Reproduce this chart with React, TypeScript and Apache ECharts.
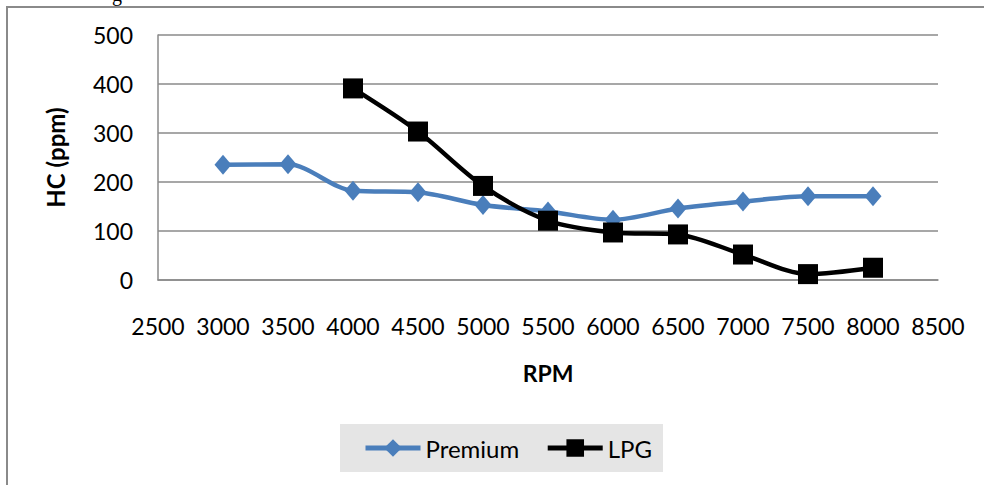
import React, { useEffect, useRef } from "react";
import * as echarts from "echarts";

// Engine speed (RPM) and hydrocarbon emissions (ppm)
const rpmPremium = [3000, 3500, 4000, 4500, 5000, 5500, 6000, 6500, 7000, 7500, 8000];
const hcPremium = [235, 236, 182, 179, 153, 140, 123, 146, 160, 171, 171];
const rpmLpg = [4000, 4500, 5000, 5500, 6000, 6500, 7000, 7500, 8000];
const hcLpg = [391, 303, 192, 121, 97, 93, 52, 12, 25];

const FONT = "Lato, 'Open Sans', sans-serif";
const GRAY = "#8a8a8a";
const BLUE = "#4a7ebb";

export default function App() {
  const ref = useRef<HTMLDivElement>(null);

  useEffect(() => {
    if (!ref.current) return;
    const chart = echarts.init(ref.current, undefined, { renderer: "svg" });
    chart.setOption({
      animation: false,
      backgroundColor: "#ffffff",
      textStyle: { fontFamily: FONT },
      grid: { left: 158, right: 46, top: 35, bottom: 205 },
      xAxis: {
        type: "value",
        min: 2500,
        max: 8500,
        interval: 500,
        name: "RPM",
        nameLocation: "middle",
        nameGap: 81,
        nameTextStyle: { fontFamily: FONT, fontSize: 23, fontWeight: "bold", color: "#000" },
        axisLine: { show: true, lineStyle: { color: GRAY, width: 1.5 } },
        axisTick: { show: false },
        splitLine: { show: false },
        axisLabel: {
          margin: 34,
          fontFamily: FONT,
          fontSize: 23,
          color: "#000",
          formatter: (v: number) => String(v),
        },
      },
      yAxis: {
        type: "value",
        min: 0,
        max: 500,
        interval: 100,
        name: "HC (ppm)",
        nameLocation: "middle",
        nameGap: 91,
        nameTextStyle: { fontFamily: FONT, fontSize: 24, fontWeight: "bold", color: "#000" },
        axisLine: { show: true, lineStyle: { color: GRAY, width: 1.5 } },
        axisTick: { show: false },
        splitLine: { show: true, lineStyle: { color: GRAY, width: 1.5 } },
        axisLabel: { margin: 25, fontFamily: FONT, fontSize: 23, color: "#000" },
      },
      legend: {
        left: 358,
        top: 431,
        itemWidth: 55,
        itemHeight: 22,
        itemGap: 26,
        lineStyle: { width: 5 },
        textStyle: { fontFamily: FONT, fontSize: 24, color: "#000" },
        data: [
          { name: "Premium", lineStyle: { width: 5 } },
          { name: "LPG", lineStyle: { width: 5 } },
        ],
      },
      graphic: [
        {
          type: "rect",
          z: -1,
          shape: { x: 340, y: 424, width: 323, height: 48 },
          style: { fill: "#e5e5e5" },
        },
        {
          type: "rect",
          shape: { x: 7, y: 7, width: 1200, height: 700 },
          style: { fill: "none", stroke: GRAY, lineWidth: 2 },
        },
        {
          type: "text",
          x: 112,
          y: -16,
          style: { text: "g", font: "20px 'Liberation Serif'", fill: "#000" },
        },
      ],
      series: [
        {
          name: "Premium",
          type: "line",
          smooth: 0.3,
          data: rpmPremium.map((r, i) => [r, hcPremium[i]]),
          symbol: "diamond",
          symbolSize: [17, 20],
          lineStyle: { color: BLUE, width: 4.5 },
          itemStyle: { color: BLUE },
        },
        {
          name: "LPG",
          type: "line",
          smooth: 0.3,
          data: rpmLpg.map((r, i) => [r, hcLpg[i]]),
          symbol: "rect",
          symbolSize: 20,
          lineStyle: { color: "#000", width: 4.5 },
          itemStyle: { color: "#000" },
        },
      ],
    });
    return () => chart.dispose();
  }, []);

  return (
    <div
      ref={ref}
      style={{ position: "fixed", left: 0, top: 0, width: 984, height: 485 }}
    />
  );
}
